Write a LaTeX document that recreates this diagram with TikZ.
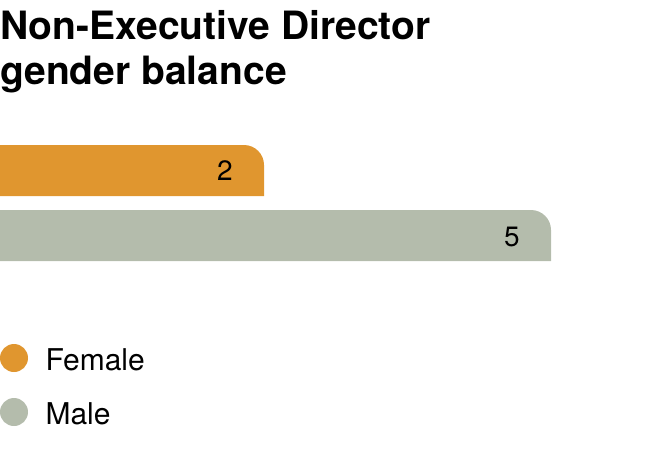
\documentclass[tikz,border=0pt]{standalone}
\usepackage{fontspec}
\setmainfont{TeX Gyre Heros}
\definecolor{fem}{HTML}{E0962F}
\definecolor{mal}{HTML}{B4BCAC}
\begin{document}
\begin{tikzpicture}[x=1pt,y=-1pt,
  num/.style={font=\fontsize{28}{30}\selectfont,anchor=center},
  leg/.style={font=\fontsize{30}{32}\selectfont,anchor=west}]
\useasboundingbox (0,0) rectangle (661,466);
\node[anchor=north west,inner sep=0pt,align=left,font=\bfseries\fontsize{39}{45}\selectfont] (title) at (0,10) {Non-Executive Director\\gender balance};
\fill[fem] (0,196) -- (0,145) [rounded corners=20pt] -- (264,145) [rounded corners=0pt] -- (264,196) -- cycle;
\fill[mal] (0,261) -- (0,210) [rounded corners=20pt] -- (551,210) [rounded corners=0pt] -- (551,261) -- cycle;
\node[num] (n2) at (225,171) {2};
\node[num] (n5) at (512,237) {5};
\fill[fem] (14,358) circle[radius=14];
\fill[mal] (14,412) circle[radius=14];
\node[leg] (f) at (42,360) {Female};
\node[leg] (m) at (42,414) {Male};
\end{tikzpicture}
\end{document}
